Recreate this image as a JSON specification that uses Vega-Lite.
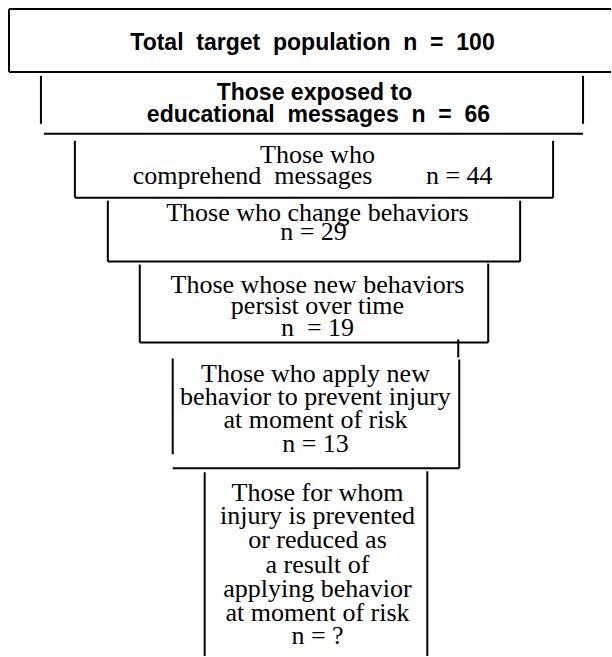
{
  "$schema": "https://vega.github.io/schema/vega-lite/v6.json",
  "width": 612,
  "height": 657,
  "autosize": {"type": "fit", "contains": "padding"},
  "padding": 0,
  "background": "white",
  "config": {"view": {"stroke": null}},
  "datasets": {
    "segments": [
      {"box": 1, "x": 9, "x2": 612, "y": 9, "y2": 9},
      {"box": 1, "x": 9, "x2": 9, "y": 9, "y2": 72},
      {"box": 1, "x": 9, "x2": 612, "y": 72, "y2": 72},
      {"box": 2, "x": 41, "x2": 41, "y": 76, "y2": 124},
      {"box": 2, "x": 584, "x2": 584, "y": 76, "y2": 124},
      {"box": 2, "x": 44, "x2": 584, "y": 134, "y2": 134},
      {"box": 3, "x": 75, "x2": 75, "y": 141, "y2": 198},
      {"box": 3, "x": 554, "x2": 554, "y": 141, "y2": 198},
      {"box": 3, "x": 75, "x2": 554, "y": 198, "y2": 198},
      {"box": 4, "x": 108, "x2": 108, "y": 201, "y2": 262},
      {"box": 4, "x": 521, "x2": 521, "y": 201, "y2": 262},
      {"box": 4, "x": 108, "x2": 521, "y": 262, "y2": 262},
      {"box": 5, "x": 140, "x2": 140, "y": 265, "y2": 343},
      {"box": 5, "x": 489, "x2": 489, "y": 264, "y2": 343},
      {"box": 5, "x": 140, "x2": 489, "y": 343, "y2": 343},
      {"box": 5, "x": 459, "x2": 459, "y": 340, "y2": 358},
      {"box": 6, "x": 173, "x2": 173, "y": 359, "y2": 455},
      {"box": 6, "x": 460, "x2": 460, "y": 360, "y2": 469},
      {"box": 6, "x": 173, "x2": 460, "y": 469, "y2": 469},
      {"box": 7, "x": 205, "x2": 205, "y": 473, "y2": 657},
      {"box": 7, "x": 428, "x2": 428, "y": 472, "y2": 657}
    ],
    "sansText": [
      {"label": "Total\u00a0 target\u00a0 population\u00a0 n\u00a0 =\u00a0 100", "x": 313, "y": 50},
      {"label": "Those exposed to", "x": 315, "y": 100},
      {"label": "educational\u00a0 messages\u00a0 n\u00a0 =\u00a0 66", "x": 319, "y": 122}
    ],
    "serifText": [
      {"label": "Those who", "x": 318, "y": 163},
      {"label": "comprehend\u00a0 messages", "x": 253, "y": 184},
      {"label": "n = 44", "x": 460, "y": 184},
      {"label": "Those who change behaviors", "x": 318, "y": 221},
      {"label": "n = 29", "x": 314, "y": 240},
      {"label": "Those whose new behaviors", "x": 318, "y": 293},
      {"label": "persist over time", "x": 318, "y": 314},
      {"label": "n\u00a0 = 19", "x": 318, "y": 337},
      {"label": "Those who apply new", "x": 316, "y": 383},
      {"label": "behavior to prevent injury", "x": 316, "y": 406},
      {"label": "at moment of risk", "x": 316, "y": 429},
      {"label": "n = 13", "x": 316, "y": 453},
      {"label": "Those for whom", "x": 318, "y": 502},
      {"label": "injury is prevented", "x": 318, "y": 525},
      {"label": "or reduced as", "x": 318, "y": 549},
      {"label": "a result of", "x": 318, "y": 574},
      {"label": "applying behavior", "x": 318, "y": 598},
      {"label": "at moment of risk", "x": 318, "y": 622},
      {"label": "n = ?", "x": 318, "y": 645}
    ]
  },
  "layer": [
    {
      "data": {"name": "segments"},
      "mark": {"type": "rule", "stroke": "black", "strokeWidth": 2},
      "encoding": {
        "x": {"field": "x", "type": "quantitative", "scale": {"domain": [0, 612], "nice": false, "zero": false}, "axis": null},
        "x2": {"field": "x2"},
        "y": {"field": "y", "type": "quantitative", "scale": {"domain": [0, 657], "nice": false, "zero": false, "reverse": true}, "axis": null},
        "y2": {"field": "y2"}
      }
    },
    {
      "data": {"name": "sansText"},
      "mark": {"type": "text", "font": "Liberation Sans", "fontWeight": "bold", "fontSize": 23, "align": "center", "baseline": "alphabetic", "color": "black"},
      "encoding": {
        "x": {"field": "x", "type": "quantitative"},
        "y": {"field": "y", "type": "quantitative"},
        "text": {"field": "label"}
      }
    },
    {
      "data": {"name": "serifText"},
      "mark": {"type": "text", "font": "Liberation Serif", "fontSize": 26, "align": "center", "baseline": "alphabetic", "color": "black"},
      "encoding": {
        "x": {"field": "x", "type": "quantitative"},
        "y": {"field": "y", "type": "quantitative"},
        "text": {"field": "label"}
      }
    }
  ]
}
